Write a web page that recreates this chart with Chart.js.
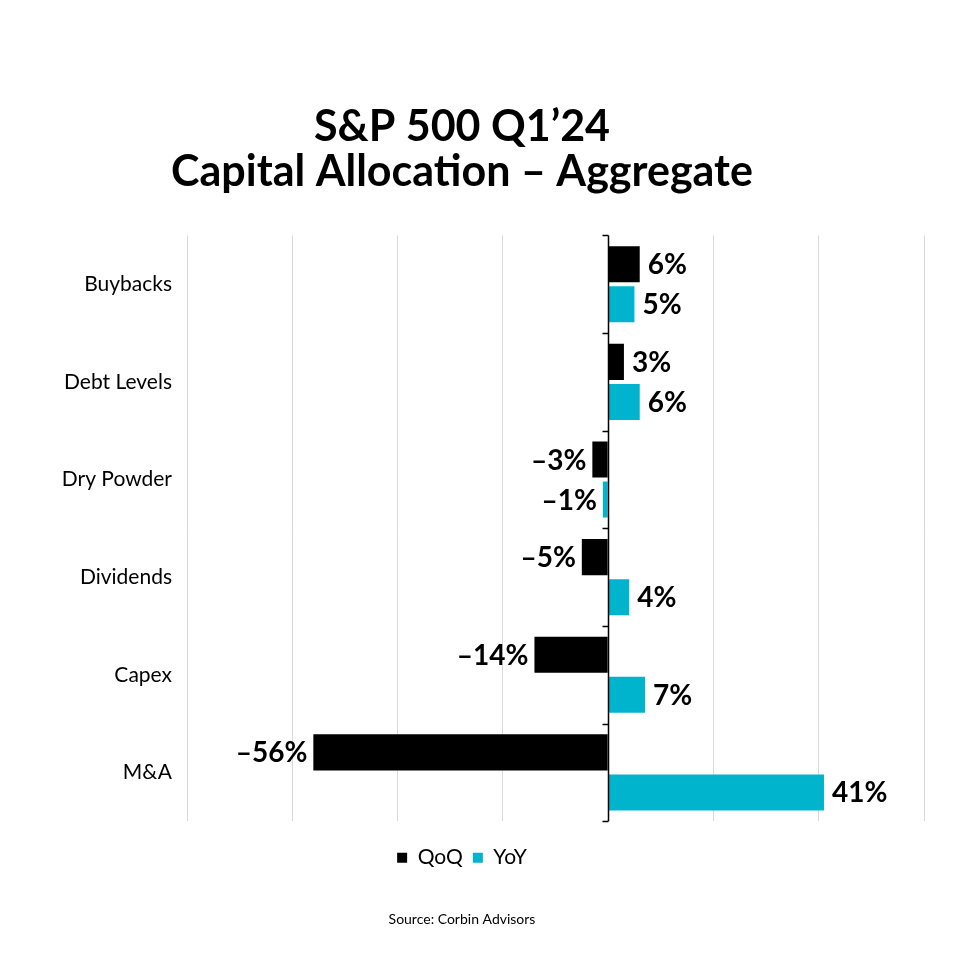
<!DOCTYPE html>
<html>
<head>
<meta charset="utf-8">
<script src="https://cdn.jsdelivr.net/npm/chart.js@4"></script>
<style>
  html, body { margin: 0; padding: 0; background: #fff; }
  #wrap { width: 960px; height: 960px; }
</style>
</head>
<body>
<div id="wrap"><canvas id="allocChart" width="960" height="960"></canvas></div>
<script>
const categories = ["Buybacks", "Debt Levels", "Dry Powder", "Dividends", "Capex", "M&A"];
const qoqValues = [6, 3, -3, -5, -14, -56];
const yoyValues = [5, 6, -1, 4, 7, 41];
const seriesNames = ["QoQ", "YoY"];

const FONT = "Lato, 'Noto Sans', sans-serif";

// 0 기준 세로축 + 카테고리 경계 눈금
const zeroAxis = {
  id: "zeroAxis",
  afterDatasetsDraw(chart) {
    const ctx = chart.ctx;
    const x = chart.scales.x;
    const x0 = Math.round(x.getPixelForValue(0)) + 0.5;
    const area = chart.chartArea;
    const step = (area.bottom - area.top) / categories.length;
    ctx.save();
    ctx.strokeStyle = "#000";
    ctx.lineWidth = 1.5;
    ctx.beginPath();
    ctx.moveTo(x0, area.top);
    ctx.lineTo(x0, area.bottom);
    for (let i = 0; i <= categories.length; i++) {
      const yy = Math.round(area.top + step * i) + 0.5;
      ctx.moveTo(x0 - 6, yy);
      ctx.lineTo(x0, yy);
    }
    ctx.stroke();
    ctx.restore();
  }
};

// 막대 끝 값 라벨
const valueLabels = {
  id: "valueLabels",
  afterDatasetsDraw(chart) {
    const ctx = chart.ctx;
    ctx.save();
    ctx.font = "bold 28px " + FONT;
    ctx.fillStyle = "#000";
    ctx.textBaseline = "middle";
    chart.data.datasets.forEach((ds, di) => {
      chart.getDatasetMeta(di).data.forEach((bar, i) => {
        const v = ds.data[i];
        const txt = (v < 0 ? "\u2013" + Math.abs(v) : v) + "%";
        if (v < 0) {
          ctx.textAlign = "right";
          ctx.fillText(txt, bar.x - 6, bar.y + 1);
        } else {
          ctx.textAlign = "left";
          ctx.fillText(txt, bar.x + 8, bar.y + 1);
        }
      });
    });
    ctx.restore();
  }
};

new Chart(document.getElementById("allocChart").getContext("2d"), {
  type: "bar",
  data: {
    labels: categories,
    datasets: [
      { label: seriesNames[0], data: qoqValues, backgroundColor: "#000000" },
      { label: seriesNames[1], data: yoyValues, backgroundColor: "#00b4cd" }
    ]
  },
  options: {
    indexAxis: "y",
    responsive: false,
    animation: false,
    layout: { padding: { top: 100, right: 36, bottom: 32, left: 0 } },
    datasets: { bar: { categoryPercentage: 0.82, barPercentage: 0.9 } },
    plugins: {
      title: {
        display: true,
        text: ["S&P 500 Q1\u201924", "Capital Allocation \u2013 Aggregate"],
        color: "#000",
        font: { family: FONT, size: 43, weight: "bold", lineHeight: 1.04 },
        padding: { top: 5, bottom: 41 }
      },
      subtitle: {
        display: true,
        position: "bottom",
        text: "Source: Corbin Advisors",
        color: "#000",
        font: { family: FONT, size: 14, lineHeight: 1.2 },
        padding: { top: 33, bottom: 0 }
      },
      legend: {
        position: "bottom",
        labels: {
          color: "#000",
          font: { family: FONT, size: 21 },
          boxWidth: 10,
          boxHeight: 10,
          padding: 10
        }
      },
      tooltip: { enabled: false }
    },
    scales: {
      x: {
        min: -80,
        max: 60,
        ticks: { display: false, stepSize: 20 },
        grid: { color: "#d9d9d9", drawTicks: false },
        border: { display: false },
        afterFit: scale => { scale.height = 16; }
      },
      y: {
        ticks: { color: "#000", font: { family: FONT, size: 21 }, padding: 7 },
        grid: { display: false },
        border: { display: false },
        afterFit: scale => { scale.width = 187; }
      }
    }
  },
  plugins: [zeroAxis, valueLabels]
});
</script>
</body>
</html>
